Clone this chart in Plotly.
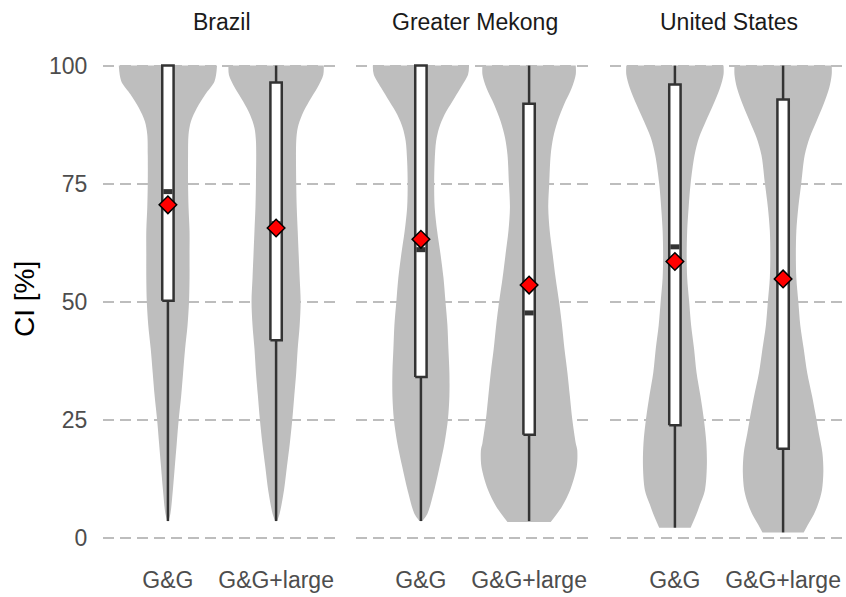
import plotly.graph_objects as go

# ---------------- data ----------------
regions = ["Brazil", "Greater Mekong", "United States"]
methods = ["G&G", "G&G+large"]

# violin outlines: CI levels [%] and relative density
brazil_gg_ci = [3.5, 5, 10, 15, 20, 25, 30, 35, 40, 45, 50, 55, 60, 65, 70, 75, 81, 85.4, 88.2, 91, 93.9, 96.7, 100]
brazil_gg_dens = [0.01, 0.05, 0.10, 0.14, 0.18, 0.22, 0.27, 0.31, 0.35, 0.40, 0.43, 0.44, 0.44, 0.44, 0.42, 0.41, 0.41, 0.42, 0.47, 0.59, 0.76, 0.95, 1.0]

brazil_ggl_ci = [3.5, 5, 10, 15, 20, 25, 30, 35, 40, 45, 50, 55, 60, 65, 70, 75, 84, 86.8, 89.6, 92.4, 95.3, 98, 100]
brazil_ggl_dens = [0.02, 0.07, 0.16, 0.22, 0.28, 0.33, 0.37, 0.41, 0.44, 0.48, 0.50, 0.48, 0.46, 0.44, 0.42, 0.41, 0.41, 0.44, 0.53, 0.67, 0.84, 0.96, 0.97]

mekong_gg_ci = [3.5, 5, 10, 15, 20, 25, 30, 35, 40, 45, 50, 55, 60, 65, 70, 75, 79.7, 84, 86.8, 89.6, 92.4, 95.3, 98.1, 100]
mekong_gg_dens = [0.03, 0.13, 0.27, 0.38, 0.48, 0.55, 0.58, 0.58, 0.56, 0.54, 0.50, 0.46, 0.40, 0.33, 0.28, 0.27, 0.28, 0.31, 0.37, 0.48, 0.64, 0.81, 0.96, 0.98]

mekong_ggl_ci = [3.3, 6.6, 10.2, 15, 18.6, 20, 25, 30, 35, 40, 45, 50, 55, 60, 65, 70, 75, 81.1, 84.7, 88.2, 91.7, 95.3, 98.1, 100]
mekong_ggl_dens = [0.44, 0.67, 0.84, 0.97, 0.98, 0.95, 0.88, 0.83, 0.78, 0.72, 0.67, 0.61, 0.54, 0.48, 0.42, 0.39, 0.41, 0.44, 0.49, 0.58, 0.71, 0.87, 0.95, 0.95]

us_gg_ci = [2.1, 5, 7, 10, 15, 20, 25, 30, 35, 40, 45, 50, 55, 60, 65, 70, 75, 81, 84.7, 88.2, 91.7, 95.3, 98.1, 100]
us_gg_dens = [0.32, 0.44, 0.51, 0.61, 0.65, 0.64, 0.59, 0.52, 0.44, 0.39, 0.33, 0.29, 0.25, 0.24, 0.25, 0.28, 0.32, 0.40, 0.49, 0.63, 0.78, 0.92, 0.99, 0.99]

us_ggl_ci = [1.1, 3, 5, 7, 10, 14, 18, 22, 25, 30, 35, 40, 45, 50, 55, 60, 65, 70, 75, 81, 84.7, 88.2, 91.7, 95.3, 98.1, 100]
us_ggl_dens = [0.42, 0.52, 0.63, 0.71, 0.79, 0.82, 0.80, 0.73, 0.68, 0.59, 0.49, 0.42, 0.35, 0.31, 0.27, 0.26, 0.27, 0.31, 0.37, 0.44, 0.54, 0.68, 0.82, 0.94, 0.99, 0.99]

# box statistics per region (order: G&G, G&G+large)
q1_vals = [[50.2, 41.8], [34.0, 21.8], [23.8, 18.8]]
median_vals = [[73.3, 66.5], [61.0, 47.6], [61.6, 55.0]]
q3_vals = [[100.0, 96.4], [100.0, 91.9], [96.0, 92.8]]
lower_whisker = [[3.5, 3.5], [3.5, 3.5], [2.1, 1.1]]
upper_whisker = [[100.0, 100.0], [100.0, 100.0], [100.0, 100.0]]
mean_vals = [[70.5, 65.6], [63.2, 53.5], [58.5, 54.8]]

y_ticks = [0, 25, 50, 75, 100]

violin_ci = [[brazil_gg_ci, brazil_ggl_ci], [mekong_gg_ci, mekong_ggl_ci], [us_gg_ci, us_ggl_ci]]
violin_dens = [[brazil_gg_dens, brazil_ggl_dens], [mekong_gg_dens, mekong_ggl_dens], [us_gg_dens, us_ggl_dens]]

# ---------------- style ----------------
W, H = 846, 597
VIOLIN_HALF = 0.454
BOX_W = 0.105
DARK = "#333333"
FONT = "Liberation Sans, Arial, sans-serif"
domains = [(103 / W, 341 / W), (356 / W, 594 / W), (610 / W, 1.0)]
px_per_unit = (341 - 103) / 2.2
MT, MB = 42, 41

fig = go.Figure()

for i, region in enumerate(regions):
    xa = "x" if i == 0 else f"x{i+1}"
    ya = "y" if i == 0 else f"y{i+1}"
    for j, m in enumerate(methods):
        pos = j + 1
        ci = violin_ci[i][j]
        d = violin_dens[i][j]
        # violin: left edge, then right edge filled to it
        fig.add_trace(go.Scatter(
            x=[pos - v * VIOLIN_HALF for v in d], y=ci, xaxis=xa, yaxis=ya,
            mode="lines", line=dict(width=0, shape="spline", smoothing=0.9, color="#BEBEBE"),
            hoverinfo="skip", showlegend=False))
        fig.add_trace(go.Scatter(
            x=[pos + v * VIOLIN_HALF for v in d], y=ci, xaxis=xa, yaxis=ya,
            mode="lines", line=dict(width=0, shape="spline", smoothing=0.9, color="#BEBEBE"),
            fill="tonextx", fillcolor="#BEBEBE", hoverinfo="skip", showlegend=False))
        # whiskers
        fig.add_trace(go.Scatter(
            x=[pos, pos, None, pos, pos],
            y=[q3_vals[i][j], upper_whisker[i][j], None, q1_vals[i][j], lower_whisker[i][j]],
            xaxis=xa, yaxis=ya, mode="lines", line=dict(color=DARK, width=2.5),
            hoverinfo="skip", showlegend=False))
        # box
        xl, xr = pos - BOX_W / 2, pos + BOX_W / 2
        fig.add_trace(go.Scatter(
            x=[xl, xr, xr, xl, xl],
            y=[q1_vals[i][j], q1_vals[i][j], q3_vals[i][j], q3_vals[i][j], q1_vals[i][j]],
            xaxis=xa, yaxis=ya, mode="lines", fill="toself", fillcolor="white",
            line=dict(color=DARK, width=2.5), hoverinfo="skip", showlegend=False))
        # median
        fig.add_trace(go.Scatter(
            x=[xl + 0.01, xr - 0.01], y=[median_vals[i][j]] * 2, xaxis=xa, yaxis=ya,
            mode="lines", line=dict(color=DARK, width=5), hoverinfo="skip", showlegend=False))
        # mean
        fig.add_trace(go.Scatter(
            x=[pos], y=[mean_vals[i][j]], xaxis=xa, yaxis=ya, mode="markers",
            marker=dict(symbol="diamond", size=13.5, color="#FF0000",
                        line=dict(color="black", width=1.5)),
            showlegend=False))

    dom = domains[i]
    xr_max = 0.4 + (dom[1] - dom[0]) * W / px_per_unit
    fig.update_layout(**{
        ("xaxis" if i == 0 else f"xaxis{i+1}"): dict(
            domain=list(dom), range=[0.4, xr_max], tickvals=[1, 2], ticktext=methods,
            showgrid=False, zeroline=False, showline=False,
            ticks="outside", ticklen=3, tickcolor="rgba(0,0,0,0)",
            tickfont=dict(size=23, color="#4D4D4D", family=FONT), anchor=ya),
        ("yaxis" if i == 0 else f"yaxis{i+1}"): dict(
            domain=[0, 1], range=[-3.9, 105], tickvals=y_ticks,
            showgrid=True, gridcolor="#BDBDBD", gridwidth=1.6, griddash="11px,6px",
            zeroline=False, showline=False, showticklabels=(i == 0),
            ticks="outside" if i == 0 else "", ticklen=10, tickcolor="rgba(0,0,0,0)",
            tickfont=dict(size=23, color="#4D4D4D", family=FONT), anchor=xa),
    })
    fig.add_annotation(
        text=region, xref="paper", yref="paper",
        x=(dom[0] + dom[1]) / 2 if i < 2 else (610 + 119) / W,
        y=(H - MB - 22) / (H - MT - MB), xanchor="center", yanchor="middle",
        showarrow=False, font=dict(size=23, color="#1A1A1A", family=FONT))

fig.add_annotation(
    text="CI [%]", xref="paper", yref="paper", x=24 / W, y=0.5,
    textangle=-90, xanchor="center", yanchor="middle", showarrow=False,
    font=dict(size=28, color="black", family=FONT))

fig.update_layout(
    width=W, height=H, margin=dict(l=0, r=0, t=MT, b=MB),
    plot_bgcolor="white", paper_bgcolor="white", showlegend=False)

fig.write_html("out.html", config={"displayModeBar": False},
               post_script="document.body.style.margin='0px';")
